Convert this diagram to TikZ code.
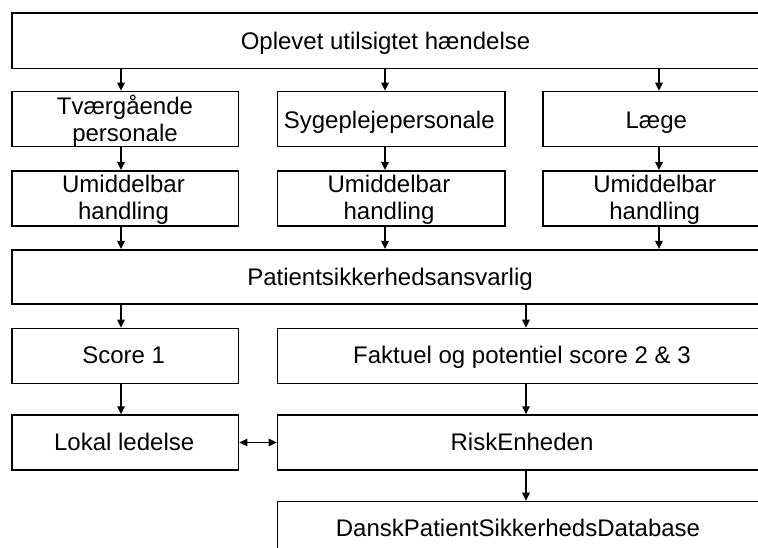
\documentclass[tikz,border=0pt]{standalone}
\usepackage{fontspec}
\setmainfont{Liberation Sans}
\usetikzlibrary{arrows.meta}
\begin{document}
\begin{tikzpicture}[x=1pt,y=-1pt,
  box/.style={draw=black,line width=1.7pt,anchor=north west,inner sep=0pt,minimum height=55pt},
  lbl/.style={anchor=base,inner sep=0pt,align=center,font=\fontsize{24}{27.4}\selectfont},
  arr/.style={line width=1.3pt,-{Triangle[length=8pt,width=7.5pt]}},
  darr/.style={line width=1.3pt,{Triangle[length=8pt,width=7.5pt]}-{Triangle[length=8pt,width=7.5pt]}}]
\useasboundingbox (0,0) rectangle (758,548);
\clip (0,0) rectangle (758,548);
\fill[white] (0,0) rectangle (758,548);
% boxes
\node[box,minimum width=759pt,minimum height=55.4pt] (top) at (11,12.3) {};
\node[box,minimum width=226.7pt] (r1a) at (11,90.7) {};
\node[box,minimum width=227.3pt] (r1b) at (276.7,90.7) {};
\node[box,minimum width=228pt] (r1c) at (542,90.7) {};
\node[box,minimum width=226.7pt] (r2a) at (11,170) {};
\node[box,minimum width=227.3pt] (r2b) at (276.7,170) {};
\node[box,minimum width=228pt] (r2c) at (542,170) {};
\node[box,minimum width=759pt,minimum height=54.3pt] (pat) at (11,249) {};
\node[box,minimum width=226.7pt] (s1) at (11,327.7) {};
\node[box,minimum width=493.3pt] (fak) at (276.7,327.7) {};
\node[box,minimum width=226.7pt,minimum height=54.7pt] (lok) at (11,414.3) {};
\node[box,minimum width=493.3pt,minimum height=54.7pt] (risk) at (276.7,414.3) {};
\node[box,minimum width=493.3pt] (dansk) at (276.7,500.7) {};
% labels
\node[lbl] (ltop) at (385.5,49.3) {Oplevet utilsigtet hændelse};
\node[lbl] (l1a) at (125,114.3) {Tværgående};
\node[lbl] (l1a2) at (125,141.7) {personale};
\node[lbl] (l1b) at (389.3,128.3) {Sygeplejepersonale};
\node[lbl] (l1c) at (656.3,128.3) {Læge};
\node[lbl] (l2a) at (123.5,192.7) {Umiddelbar};
\node[lbl] (l2a2) at (123.5,220) {handling};
\node[lbl] (l2b) at (389,192.7) {Umiddelbar};
\node[lbl] (l2b2) at (389,220) {handling};
\node[lbl] (l2c) at (654.7,192.7) {Umiddelbar};
\node[lbl] (l2c2) at (654.7,220) {handling};
\node[lbl] (lpat) at (390,285) {Patientsikkerhedsansvarlig};
\node[lbl] (ls1) at (123.7,363.3) {Score 1};
\node[lbl] (lfak) at (522,363.3) {Faktuel og potentiel score 2 \& 3};
\node[lbl] (llok) at (124.2,450) {Lokal ledelse};
\node[lbl] (lrisk) at (522,450) {RiskEnheden};
\node[lbl] (ldansk) at (518,536) {DanskPatientSikkerhedsDatabase};
% arrow columns
\coordinate (xa) at (121,0);
\coordinate (xb) at (385,0);
\coordinate (xc) at (659,0);
\coordinate (xd) at (526,0);
\draw[arr] (top.south -| xa) -- (r1a.north -| xa);
\draw[arr] (top.south -| xb) -- (r1b.north -| xb);
\draw[arr] (top.south -| xc) -- (r1c.north -| xc);
\draw[arr] (r1a.south -| xa) -- (r2a.north -| xa);
\draw[arr] (r1b.south -| xb) -- (r2b.north -| xb);
\draw[arr] (r1c.south -| xc) -- (r2c.north -| xc);
\draw[arr] (r2a.south -| xa) -- (pat.north -| xa);
\draw[arr] (r2b.south -| xb) -- (pat.north -| xb);
\draw[arr] (r2c.south -| xc) -- (pat.north -| xc);
\draw[arr] (pat.south -| xa) -- (s1.north -| xa);
\draw[arr] (pat.south -| xd) -- (fak.north -| xd);
\draw[arr] (s1.south -| xa) -- (lok.north -| xa);
\draw[arr] (fak.south -| xd) -- (risk.north -| xd);
\draw[arr] (risk.south -| xd) -- (dansk.north -| xd);
\draw[darr] (lok.east) -- (risk.west);
\end{tikzpicture}
\end{document}
